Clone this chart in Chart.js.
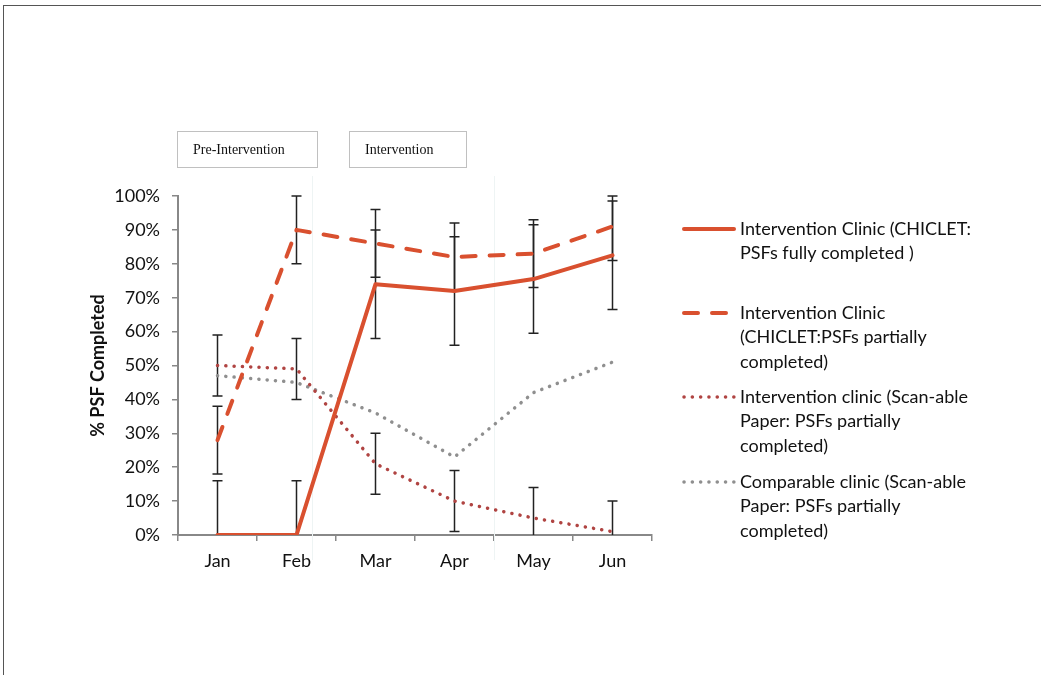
<!DOCTYPE html>
<html>
<head>
<meta charset="utf-8">
<script src="https://cdn.jsdelivr.net/npm/chart.js@4/dist/chart.umd.min.js"></script>
<style>
  html, body { margin: 0; padding: 0; background: #fff; }
  #wrap { position: relative; width: 1041px; height: 675px; overflow: hidden; }
  #frame { position: absolute; left: 3px; top: 5px; width: 1200px; height: 800px;
           border-top: 1px solid #555; border-left: 1px solid #555; }
  canvas { position: absolute; left: 0; top: 0; }
  .phase { position: absolute; top: 131px; height: 35px; border: 1px solid #c0c0c0;
           font-family: "Liberation Serif", serif; font-size: 14px; line-height: 35px;
           color: #111; box-sizing: content-box; }
</style>
</head>
<body>
<div id="wrap">
  <div id="frame"></div>
  <canvas id="psfChart" width="1041" height="675"></canvas>
  <div class="phase" style="left:177px;width:124px;padding-left:15px;">Pre-Intervention</div>
  <div class="phase" style="left:349px;width:101px;padding-left:15px;">Intervention</div>
</div>
<script>
// months on the x axis
var months = ["Jan", "Feb", "Mar", "Apr", "May", "Jun"];

// % of PSFs completed for each series
var chicletFull = [0, 0, 74, 72, 75.5, 82.5];
var chicletPartial = [28, 90, 86, 82, 83, 91];
var paperIntervention = [50, 49, 21, 10, 5, 1];
var paperComparable = [47, 45, 36, 23, 42, 51];

// error bar sizes (+/-) for each series
var chicletFullErr = [16, 16, 16, 16, 16, 16];
var chicletPartialErr = [10, 10, 10, 10, 10, 10];
var paperInterventionErr = [9, 9, 9, 9, 9, 9];

// legend text lines
var legendLabels = [
  ["Intervention Clinic (CHICLET:", "PSFs fully completed )"],
  ["Intervention Clinic", "(CHICLET:PSFs partially", "completed)"],
  ["Intervention clinic (Scan-able", "Paper: PSFs partially", "completed)"],
  ["Comparable clinic (Scan-able", "Paper: PSFs partially", "completed)"]
];

var orange = "#d9502f";
var darkRed = "#b04442";
var grey = "#8f8f8f";

//draws the black error bars under the lines
var errorBars = {
  id: "errorBars",
  beforeDatasetsDraw: function (chart) {
    var ctx = chart.ctx;
    var xs = chart.scales.x;
    var ys = chart.scales.y;
    var area = chart.chartArea;
    ctx.save();
    // faint separators behind the phases
    ctx.strokeStyle = "#eef4f4";
    ctx.lineWidth = 1;
    [1.2, 3.5].forEach(function (p) {
      var x = Math.round(xs.getPixelForValue(p)) + 0.5;
      ctx.beginPath();
      ctx.moveTo(x, area.top - 20);
      ctx.lineTo(x, area.bottom + 25);
      ctx.stroke();
    });
    ctx.strokeStyle = "#222";
    ctx.lineWidth = 1.5;
    chart.data.datasets.forEach(function (ds) {
      if (!ds.errors) return;
      ds.data.forEach(function (v, i) {
        var e = ds.errors[i];
        var x = xs.getPixelForValue(i);
        var top = ys.getPixelForValue(Math.min(v + e, 100));
        var lo = v - e;
        var bottom = ys.getPixelForValue(Math.max(lo, 0));
        ctx.beginPath();
        ctx.moveTo(x, top);
        ctx.lineTo(x, bottom);
        ctx.moveTo(x - 5, top);
        ctx.lineTo(x + 5, top);
        if (lo >= 0) {
          ctx.moveTo(x - 5, bottom);
          ctx.lineTo(x + 5, bottom);
        }
        ctx.stroke();
      });
    });
    ctx.restore();
  }
};

//draws the legend on the right
var sideLegend = {
  id: "sideLegend",
  afterDraw: function (chart) {
    var ctx = chart.ctx;
    var startY = [229, 313, 397, 482];
    var lineGap = 24.5;
    ctx.save();
    ctx.font = "18px Lato";
    ctx.fillStyle = "#111";
    ctx.textBaseline = "middle";
    chart.data.datasets.forEach(function (ds, k) {
      var y = startY[k];
      ctx.beginPath();
      ctx.strokeStyle = ds.borderColor;
      ctx.lineWidth = ds.borderWidth;
      ctx.lineCap = "round";
      ctx.setLineDash(ds.borderDash || []);
      ctx.moveTo(684, y);
      ctx.lineTo(k == 1 ? 730 : 734, y);
      ctx.stroke();
      ctx.setLineDash([]);
      legendLabels[k].forEach(function (t, j) {
        ctx.fillText(t, 740, y + j * lineGap);
      });
    });
    ctx.restore();
  }
};

var ctx = document.getElementById("psfChart").getContext("2d");
var config = {
  type: "line",
  data: {
    labels: months,
    datasets: [
      {
        label: "full",
        data: chicletFull,
        errors: chicletFullErr,
        borderColor: orange,
        borderWidth: 4,
        borderCapStyle: "round",
        borderJoinStyle: "round"
      },
      {
        label: "partial",
        data: chicletPartial,
        errors: chicletPartialErr,
        borderColor: orange,
        borderWidth: 4,
        borderDash: [14, 14],
        borderCapStyle: "round"
      },
      {
        label: "paper int",
        data: paperIntervention,
        errors: paperInterventionErr,
        borderColor: darkRed,
        borderWidth: 3.5,
        borderDash: [0.1, 8.2],
        borderCapStyle: "round"
      },
      {
        label: "paper comp",
        data: paperComparable,
        borderColor: grey,
        borderWidth: 3.5,
        borderDash: [0.1, 8.2],
        borderCapStyle: "round"
      }
    ]
  },
  options: {
    responsive: false,
    animation: false,
    devicePixelRatio: 1,
    elements: { point: { radius: 0 }, line: { tension: 0 } },
    layout: { padding: { left: 85, top: 196, right: 389, bottom: 100 } },
    plugins: { legend: { display: false }, tooltip: { enabled: false } },
    scales: {
      x: {
        offset: true,
        grid: { offset: true, drawOnChartArea: false, drawTicks: true, tickLength: 6, color: "#888", lineWidth: 1.5 },
        border: { color: "#888", width: 2 },
        ticks: { color: "#111", font: { family: "Lato", size: 18 }, padding: 9 },
        afterFit: function (s) { s.height = 40; }
      },
      y: {
        min: 0,
        max: 100,
        grid: { drawOnChartArea: false, drawTicks: true, tickLength: 6, color: "#888", lineWidth: 1.5 },
        border: { color: "#888", width: 2 },
        ticks: {
          stepSize: 10,
          color: "#111",
          font: { family: "Lato", size: 18 },
          padding: 12,
          callback: function (v) { return v + "%"; }
        },
        title: {
          display: true,
          text: "% PSF Completed",
          color: "#111",
          font: { family: "Lato", size: 18, weight: "bold" },
          padding: { top: 2, bottom: 0 }
        },
        afterFit: function (s) { s.width = 93; }
      }
    }
  },
  plugins: [errorBars, sideLegend]
};
var psfChart = new Chart(ctx, config);
</script>
</body>
</html>
